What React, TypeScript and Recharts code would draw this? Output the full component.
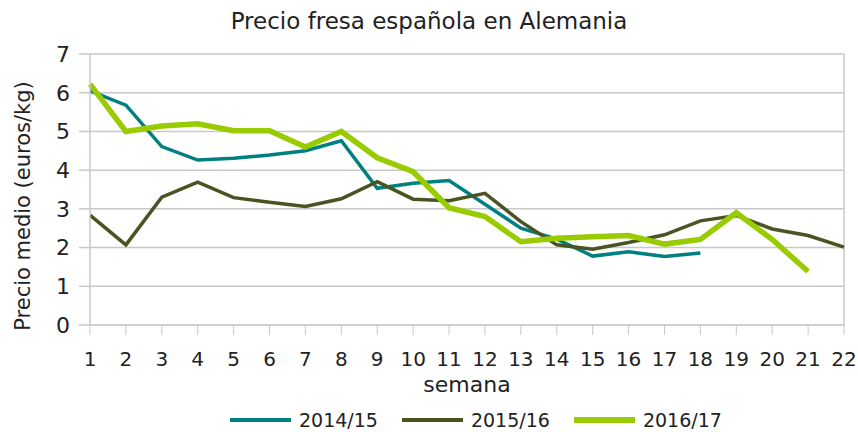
import { LineChart, Line, XAxis, YAxis, CartesianGrid, Legend, ReferenceLine } from 'recharts';

// weekly average price (euros/kg)
const weeks = [1, 2, 3, 4, 5, 6, 7, 8, 9, 10, 11, 12, 13, 14, 15, 16, 17, 18, 19, 20, 21, 22];
const season1415 = [6.05, 5.68, 4.61, 4.26, 4.31, 4.39, 4.5, 4.76, 3.53, 3.66, 3.73, 3.12, 2.5, 2.22, 1.78, 1.89, 1.77, 1.86];
const season1516 = [2.84, 2.07, 3.3, 3.69, 3.29, 3.17, 3.06, 3.26, 3.7, 3.25, 3.21, 3.4, 2.67, 2.07, 1.96, 2.13, 2.33, 2.69, 2.83, 2.48, 2.31, 2.01];
const season1617 = [6.22, 5.0, 5.14, 5.2, 5.02, 5.02, 4.6, 5.0, 4.32, 3.96, 3.03, 2.8, 2.15, 2.24, 2.28, 2.31, 2.09, 2.21, 2.9, 2.21, 1.38];
const yTicks = [0, 1, 2, 3, 4, 5, 6, 7];

const series = [
  { key: 's1415', name: '2014/15', color: '#008080', width: 3.5 },
  { key: 's1516', name: '2015/16', color: '#4a5422', width: 3.5 },
  { key: 's1617', name: '2016/17', color: '#99cc00', width: 5.5 },
];

const data = weeks.map((w, i) => ({
  week: w,
  s1415: season1415[i] ?? null,
  s1516: season1516[i] ?? null,
  s1617: season1617[i] ?? null,
}));

const FONT = '"DejaVu Sans", sans-serif';
const GRID = '#c8c8c8';
const TEXT = '#222';

function LegendRow() {
  return (
    <div style={{ display: 'flex', alignItems: 'center', height: 24, paddingLeft: 230, fontFamily: FONT }}>
      {series.map((s) => (
        <span key={s.key} style={{ display: 'flex', alignItems: 'center', marginRight: 24 }}>
          <span style={{ display: 'inline-block', width: 61, height: s.width + 0.5, background: s.color, marginRight: 8 }} />
          <span style={{ fontSize: 19, color: TEXT }}>{s.name}</span>
        </span>
      ))}
    </div>
  );
}

export default function App() {
  return (
    <div style={{ position: 'absolute', left: 0, top: 0, width: 858, height: 432, background: '#fff' }}>
      <div
        style={{
          position: 'absolute',
          top: 8,
          left: 0,
          width: 858,
          textAlign: 'center',
          fontFamily: FONT,
          fontSize: 23,
          lineHeight: '26px',
          color: TEXT,
        }}
      >
        Precio fresa española en Alemania
      </div>
      <LineChart width={858} height={432} data={data} margin={{ top: 54, right: 14, left: 0, bottom: 0 }}>
        <CartesianGrid vertical={false} stroke={GRID} strokeWidth={1.5} />
        <XAxis
          dataKey="week"
          height={83}
          tickSize={10}
          tickMargin={17}
          stroke={GRID}
          tick={{ fill: TEXT, fontSize: 20, fontFamily: FONT }}
          interval={0}
          label={{
            content: (props: any) => {
              const vb = props.viewBox;
              return (
                <text
                  x={vb.x + vb.width / 2}
                  y={vb.y + 59}
                  textAnchor="middle"
                  dominantBaseline="central"
                  fontSize={22}
                  fontFamily={FONT}
                  fill={TEXT}
                >
                  semana
                </text>
              );
            },
          }}
        />
        <YAxis
          width={90}
          domain={[0, 7]}
          ticks={yTicks}
          tickSize={11}
          tickMargin={9}
          stroke={GRID}
          strokeWidth={1.5}
          tick={{ fill: TEXT, fontSize: 22, fontFamily: FONT }}
          label={{
            content: () => (
              <text
                x={23}
                y={206}
                transform="rotate(-90 23 206)"
                textAnchor="middle"
                dominantBaseline="central"
                fontSize={21}
                fontFamily={FONT}
                fill={TEXT}
              >
                Precio medio (euros/kg)
              </text>
            ),
          }}
        />
        <ReferenceLine x={22} stroke={GRID} strokeWidth={1.5} />
        <Legend verticalAlign="bottom" wrapperStyle={{ left: 0, width: 858 }} content={() => <LegendRow />} />
        {series.map((s) => (
          <Line
            key={s.key}
            type="linear"
            dataKey={s.key}
            name={s.name}
            stroke={s.color}
            strokeWidth={s.width}
            dot={false}
            isAnimationActive={false}
          />
        ))}
      </LineChart>
    </div>
  );
}
